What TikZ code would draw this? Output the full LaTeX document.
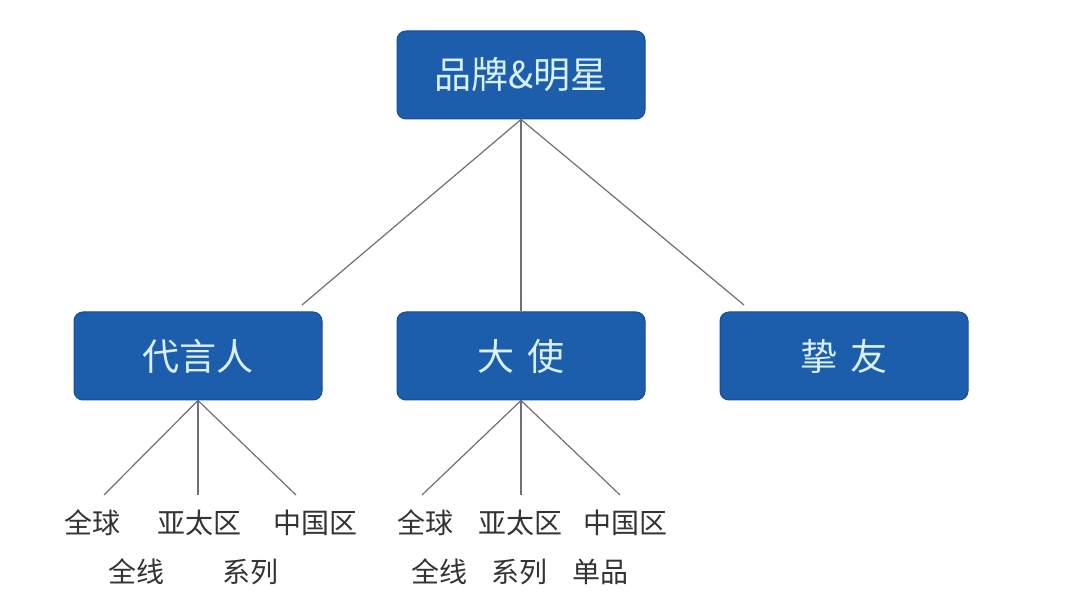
\documentclass[tikz,border=0pt]{standalone}
\usepackage{fontspec}
\newfontfamily\cjk{Noto Sans CJK SC}
\definecolor{boxfill}{HTML}{1C5DAC}
\definecolor{boxedge}{HTML}{174E93}
\definecolor{boxtext}{HTML}{D8F0FF}
\definecolor{linegray}{HTML}{707070}
\definecolor{labelgray}{HTML}{333333}
\begin{document}
\begin{tikzpicture}[x=1pt,y=-1pt,
  bluebox/.style={draw=boxedge, line width=1pt, fill=boxfill, rounded corners=9pt,
    minimum width=248pt, minimum height=88pt, inner sep=0pt,
    text=boxtext, font=\cjk\fontsize{37}{40}\selectfont},
  leaf/.style={inner sep=0pt, text=labelgray, font=\cjk\fontsize{28}{32}\selectfont},
  conn/.style={draw=linegray, line width=1.2pt}]
\useasboundingbox (0,0) rectangle (1080,601);
\fill[white] (0,0) rectangle (1080,601);

\node[bluebox] (root) at (521,75) {品牌\&明星};
\node[bluebox] (dai) at (198,356) {代言人};
\node[bluebox] (da) at (521,356) {大\hspace{0.35em}使};
\node[bluebox] (zhi) at (844,356) {挚\hspace{0.35em}友};

\coordinate (rl) at (302,305);
\coordinate (rr) at (744,305);
\draw[conn] (root.south) -- (rl);
\draw[conn] (root.south) -- (da.north);
\draw[conn] (root.south) -- (rr);

% 代言人 children
\coordinate (d1) at (104,495);
\coordinate (d2) at (198,495);
\coordinate (d3) at (296,495);
\draw[conn] (dai.south) -- (d1);
\draw[conn] (dai.south) -- (d2);
\draw[conn] (dai.south) -- (d3);
\node[leaf] (dl1) at (92,523) {全球};
\node[leaf] (dl2) at (199,523) {亚太区};
\node[leaf] (dl3) at (315,523) {中国区};
\node[leaf] (dl4) at (136,572) {全线};
\node[leaf] (dl5) at (250,572) {系列};

% 大使 children
\coordinate (a1) at (422,495);
\coordinate (a2) at (521,495);
\coordinate (a3) at (620,495);
\draw[conn] (da.south) -- (a1);
\draw[conn] (da.south) -- (a2);
\draw[conn] (da.south) -- (a3);
\node[leaf] (al1) at (425,523) {全球};
\node[leaf] (al2) at (520,523) {亚太区};
\node[leaf] (al3) at (625,523) {中国区};
\node[leaf] (al4) at (439,572) {全线};
\node[leaf] (al5) at (519,572) {系列};
\node[leaf] (al6) at (600,572) {单品};
\end{tikzpicture}
\end{document}
